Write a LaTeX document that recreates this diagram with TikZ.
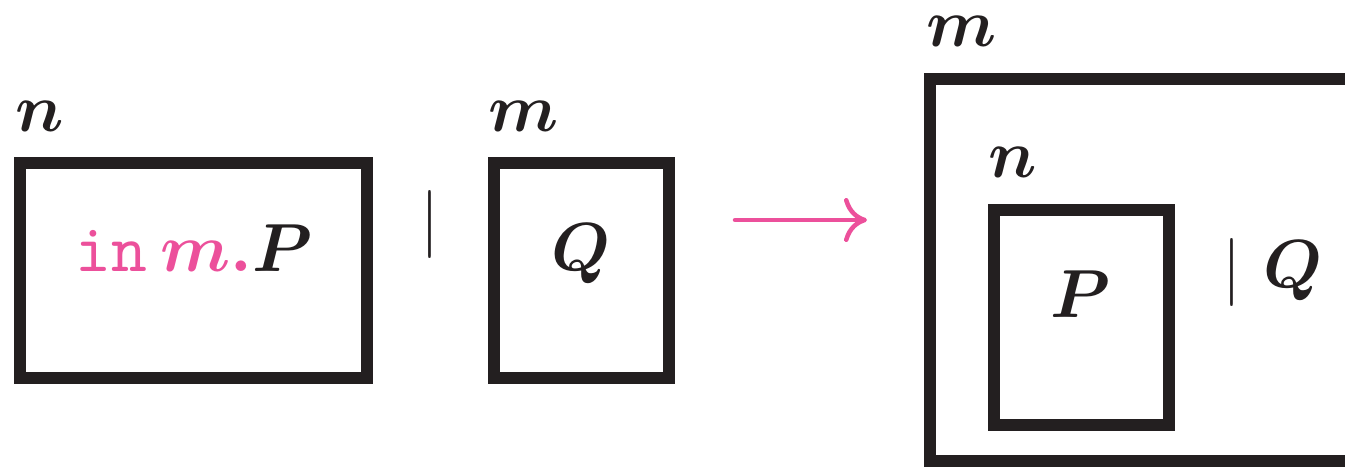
\documentclass[tikz,border=0pt]{standalone}
\usetikzlibrary{arrows.meta}
\definecolor{boxdark}{RGB}{35,31,32}
\definecolor{mpink}{RGB}{236,80,155}
\newcommand{\bigtxt}[1]{\scalebox{6.8}{\boldmath#1}}
\newcommand{\bigbar}{\scalebox{6.8}{\unboldmath$\vert$}}
\begin{document}
\begin{tikzpicture}[x=1pt,y=-1pt,
  box/.style={draw=boxdark, line width=12pt, inner sep=0pt, anchor=center},
  boxline/.style={draw=boxdark, line width=12pt, line join=miter},
  lab/.style={inner sep=0pt, text=boxdark},
  redarrow/.style={draw=mpink, line width=4.5pt, line cap=round,
    -{Computer Modern Rightarrow[length=23pt,width=44pt,line width=4.5pt]}},
]
\useasboundingbox (0,0) rectangle (1345,467);
% left box n
\node[box, minimum width=347pt, minimum height=214.5pt] (b1) at (193.5,270.25) {};
\node[lab, anchor=base west] (n1) at (15,131) {\bigtxt{$n$}};
\node[lab, anchor=base] (t1) at (194,271) {\bigtxt{\textcolor{mpink}{\texttt{in}$\,m.$}$P$}};
% bar
\node[lab, anchor=base] (bar1) at (430,241) {\bigbar};
% box m with Q
\node[box, minimum width=175pt, minimum height=214.5pt] (b2) at (581,270.25) {};
\node[lab, anchor=base west] (m1) at (488,131) {\bigtxt{$m$}};
\node[lab, anchor=base] (q1) at (581,270) {\bigtxt{$Q$}};
% arrow
\coordinate (a1) at (735,220);
\coordinate (a2) at (867,220);
\draw[redarrow] (a1) -- (a2);
% big box m (open on the right)
\coordinate (btr) at (1345,79);
\coordinate (btl) at (930,79);
\coordinate (bbl) at (930,461);
\coordinate (bbr) at (1345,461);
\draw[boxline] (btr) -- (btl) -- (bbl) -- (bbr);
\node[lab, anchor=base west] (m2) at (926,46) {\bigtxt{$m$}};
% inner box n with P
\node[box, minimum width=175pt, minimum height=215pt] (b3) at (1081.5,317.5) {};
\node[lab, anchor=base west] (n2) at (988,177) {\bigtxt{$n$}};
\node[lab, anchor=base] (p2) at (1081,317) {\bigtxt{$P$}};
\node[lab, anchor=base] (bar2) at (1232,289) {\bigbar};
\node[lab, anchor=base west] (q2) at (1263,287) {\bigtxt{$Q$}};
\end{tikzpicture}
\end{document}
